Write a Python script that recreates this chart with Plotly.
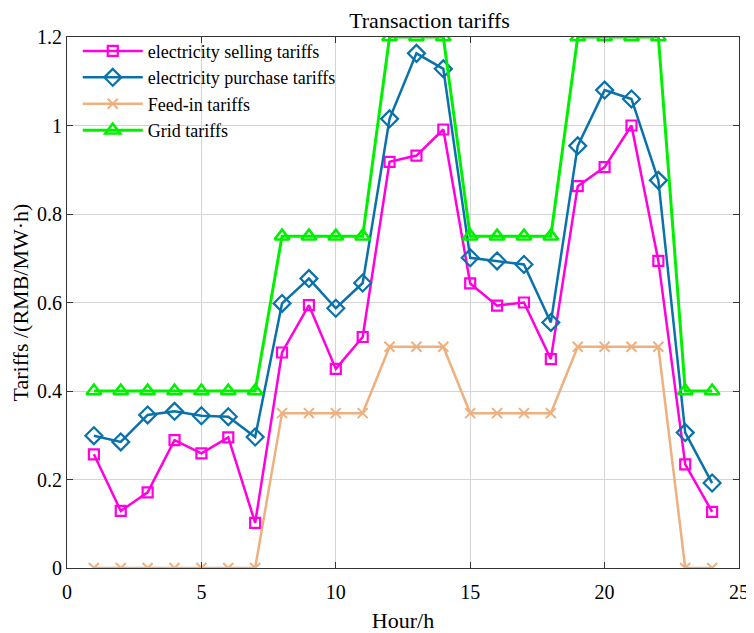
import plotly.graph_objects as go

hours = list(range(1, 25))
selling = [0.257, 0.129, 0.171, 0.289, 0.259, 0.295, 0.102, 0.487, 0.594, 0.45, 0.522, 0.918,
           0.932, 0.991, 0.643, 0.593, 0.60, 0.472, 0.863, 0.906, 1.0, 0.694, 0.234, 0.127]
purchase = [0.299, 0.285, 0.346, 0.354, 0.344, 0.342, 0.296, 0.598, 0.654, 0.587, 0.644, 1.015,
            1.163, 1.128, 0.701, 0.694, 0.686, 0.555, 0.954, 1.08, 1.06, 0.876, 0.306, 0.192]
feedin = [0, 0, 0, 0, 0, 0, 0, 0.35, 0.35, 0.35, 0.35, 0.5,
          0.5, 0.5, 0.35, 0.35, 0.35, 0.35, 0.5, 0.5, 0.5, 0.5, 0, 0]
grid = [0.4, 0.4, 0.4, 0.4, 0.4, 0.4, 0.4, 0.75, 0.75, 0.75, 0.75, 1.2,
        1.2, 1.2, 0.75, 0.75, 0.75, 0.75, 1.2, 1.2, 1.2, 1.2, 0.4, 0.4]
x_ticks = [0, 5, 10, 15, 20, 25]
y_ticks = [0, 0.2, 0.4, 0.6, 0.8, 1.0, 1.2]
y_ticktext = ["0", "0.2", "0.4", "0.6", "0.8", "1", "1.2"]

FONT = "Liberation Serif"

fig = go.Figure()
fig.add_trace(go.Scatter(x=hours, y=selling, mode="lines+markers", name="electricity selling tariffs",
                         line=dict(color="#FF00E0", width=2.5),
                         marker=dict(symbol="square-open", size=10, color="#FF00E0", line=dict(width=2.2))))
fig.add_trace(go.Scatter(x=hours, y=purchase, mode="lines+markers", name="electricity purchase tariffs",
                         line=dict(color="#0A72AA", width=2.5),
                         marker=dict(symbol="diamond-open", size=13, color="#0A72AA", line=dict(width=2.2))))
fig.add_trace(go.Scatter(x=hours, y=feedin, mode="lines+markers", name="Feed-in tariffs",
                         line=dict(color="#EDB07E", width=2.5),
                         marker=dict(symbol="x-thin-open", size=10, color="#EDB07E", line=dict(width=2, color="#EDB07E"))))
fig.add_trace(go.Scatter(x=hours, y=grid, mode="lines+markers", name="Grid tariffs",
                         line=dict(color="#00F000", width=3),
                         marker=dict(symbol="triangle-up-open", size=13, color="#00F000", line=dict(width=2.5))))

fig.update_layout(
    width=746, height=625,
    margin=dict(l=59, r=15, t=29, b=65, autoexpand=False),
    paper_bgcolor="white", plot_bgcolor="white",
    font=dict(family=FONT, size=19, color="black"),
    title=dict(text="Transaction tariffs", x=0.565, xanchor="center", y=0.992, yanchor="top",
               font=dict(family=FONT, size=22, color="black")),
    legend=dict(x=0.016, y=1.008, xanchor="left", yanchor="top", bgcolor="rgba(0,0,0,0)",
                font=dict(family=FONT, size=18, color="black"), tracegroupgap=0,
                itemwidth=60),
    showlegend=True,
)
fig.update_xaxes(range=[0, 25], tickvals=x_ticks, showgrid=True, gridcolor="#D4D4D4",
                 gridwidth=1, zeroline=False, showline=True, linecolor="#333333", linewidth=1, mirror="ticks",
                 ticks="inside", ticklen=6, tickcolor="#333333", ticklabelstandoff=6,
                 title=dict(text="Hour/h", font=dict(family=FONT, size=22), standoff=11),
                 tickfont=dict(family=FONT, size=20), automargin=False)
fig.update_yaxes(range=[0, 1.2], tickvals=y_ticks, ticktext=y_ticktext,
                 showgrid=True, gridcolor="#D4D4D4",
                 gridwidth=1, zeroline=False, showline=True, linecolor="#333333", linewidth=1, mirror="ticks",
                 ticks="inside", ticklen=6, tickcolor="#333333",
                 title=dict(text="Tariffs /(RMB/MW·h)", font=dict(family=FONT, size=22), standoff=19),
                 tickfont=dict(family=FONT, size=20), automargin=False)

fig.write_html("out.html")
